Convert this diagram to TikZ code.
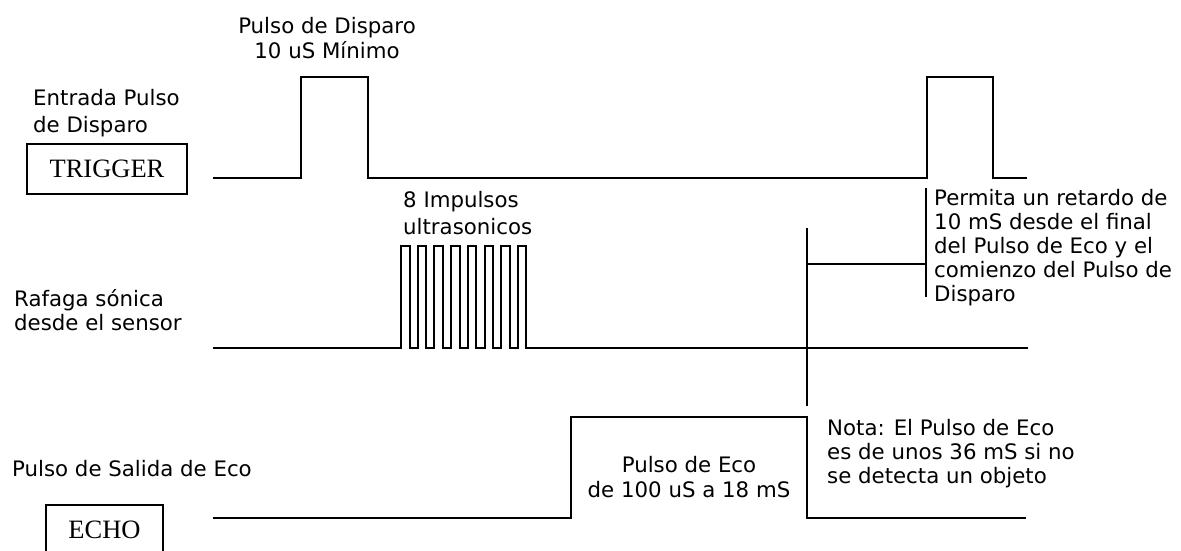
\documentclass[tikz,border=0pt]{standalone}
\usepackage{fontspec}
\setmainfont{DejaVu Sans}
\newfontfamily\tagfont{Liberation Serif}
\usetikzlibrary{positioning}

\begin{document}
\begin{tikzpicture}[
    x=1pt, y=-1pt,
    signal/.style={draw=black, line width=2pt},
    marker/.style={draw=black, line width=1.8pt},
    label/.style={inner sep=0pt, align=left, font=\fontsize{21.3}{25}\selectfont},
    wide/.style={font=\fontsize{21.3}{27.5}\selectfont},
    tight/.style={font=\fontsize{21.3}{24}\selectfont},
    clabel/.style={label, align=center},
    tagbox/.style={draw=black, line width=1.8pt, inner sep=0pt, font=\tagfont\fontsize{26.5}{30}\selectfont}
]
\useasboundingbox (0,0) rectangle (1181,550);

% Signal names on the left
\node[label, wide, anchor=north west] (trigname) at (33,89) {Entrada Pulso\\de Disparo};
\node[tagbox, minimum width=160pt, minimum height=50pt] (trigger) at (107,169) {TRIGGER};
\node[label, tight, anchor=north west] (burstname) at (14,289) {Rafaga sónica\\desde el sensor};
\node[label, anchor=north west] (echoname) at (12,460) {Pulso de Salida de Eco};
\node[tagbox, minimum width=117pt, minimum height=50pt] (echo) at (104.5,530) {ECHO};

% Trigger input
\draw[signal] (213,178) -- (301,178) -- (301,77) -- (368,77) -- (368,178)
    -- (927,178) -- (927,77) -- (993,77) -- (993,178) -- (1027,178);
\node[clabel, anchor=north] (trigpulse) at (327,17) {Pulso de Disparo\\10 uS Mínimo};

% Sonic burst
\draw[signal] (213,348) -- (401,348)
    \foreach \i in {0,...,7} {
        -- ({401+16.7*\i},348) -- ({401+16.7*\i},246)
        -- ({409.5+16.7*\i},246) -- ({409.5+16.7*\i},348)
    } -- (1028,348);
\node[label, wide, anchor=north west] (bursttext) at (403,191) {8 Impulsos\\ultrasonicos};

% Echo output
\draw[signal] (213,518) -- (571,518) -- (571,417) -- (807,417) -- (807,518) -- (1026,518);
\node[clabel, anchor=north] (echotext) at (689,456) {Pulso de Eco\\de 100 uS a 18 mS};
\node[label, tight, anchor=north west] (notetext) at (827,419) {Nota: El Pulso de Eco\\es de unos 36 mS si no\\se detecta un objeto};

% Delay between echo end and next trigger
\coordinate (gaptop) at (807,228);
\coordinate (gapbot) at (807,406);
\coordinate (gapmid) at (807,264);
\coordinate (bartop) at (926,188);
\coordinate (barbot) at (926,297);
\draw[marker] (gaptop) -- (gapbot);
\draw[marker] (bartop) -- (barbot);
\draw[marker] (gapmid) -- (gapmid -| bartop);
\node[label, tight, anchor=north west] (delaytext) at (934,189) {Permita un retardo de\\10 mS desde el final\\del Pulso de Eco y el\\comienzo del Pulso de\\Disparo};

\end{tikzpicture}
\end{document}
